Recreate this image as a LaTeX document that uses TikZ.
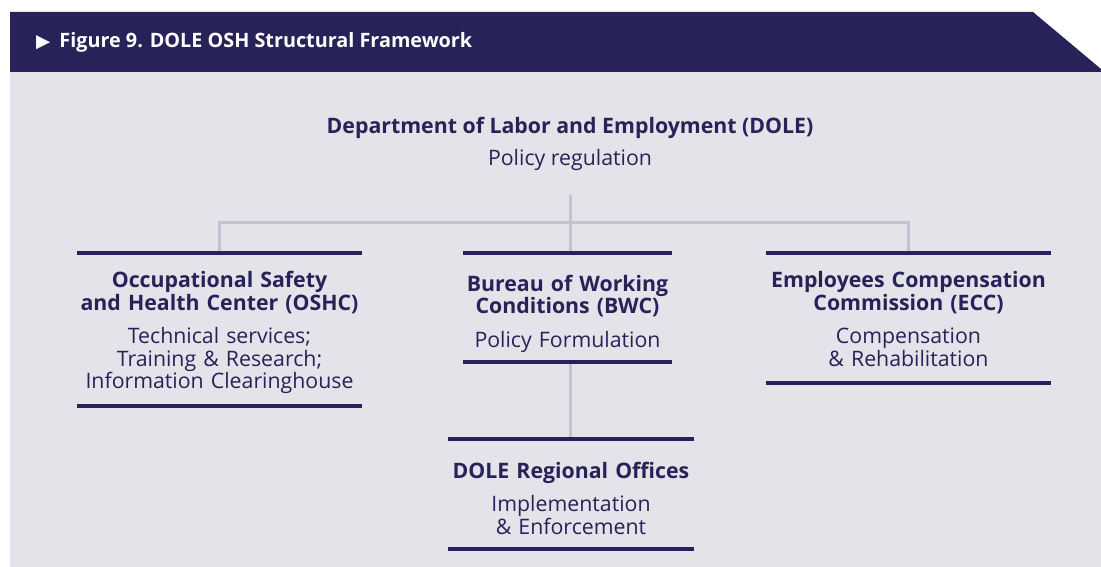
\documentclass[tikz,border=0pt]{standalone}
\usepackage{fontspec}
\setmainfont{Open Sans}
\newfontfamily\symfont{DejaVu Sans}
\definecolor{navy}{HTML}{272257}
\definecolor{panel}{HTML}{E4E3EA}
\definecolor{wire}{HTML}{C4C2D2}
\newcommand{\lift}[1]{\rule{0pt}{#1}}
\tikzset{
  unit/.style={anchor=north,align=center,text=navy,inner xsep=0pt,inner ysep=0pt,
    font=\fontsize{21.3}{22.5}\selectfont},
  rule/.style={navy,line width=4pt},
  link/.style={wire,line width=3pt},
}

\begin{document}
\begin{tikzpicture}[x=1pt,y=-1pt]
\useasboundingbox (0,0) rectangle (1101,567);
\fill[white] (0,0) rectangle (1101,567);
\fill[panel] (10,72) rectangle (1101,567);
\fill[navy] (10,12) -- (1033,12) -- (1101,69) -- (1101,72) -- (10,72) -- cycle;
\node[anchor=west,text=white,inner sep=0pt,font=\fontsize{19.8}{22}\selectfont\bfseries] (title) at (36,42)
  {{\symfont\fontsize{18.5}{20}\selectfont ▶}\hspace{9pt}Figure 9. DOLE OSH Structural Framework};

% top of the tree
\node[unit,anchor=center] (dole) at (570,144)
  {\textbf{Department of Labor and Employment (DOLE)}\\[9pt] Policy regulation};

% the three centers
\node[unit,text width=285pt,minimum height=153pt] (oshc) at (219.5,253)
  {\lift{22pt}\textbf{Occupational Safety}\\ \textbf{and Health Center (OSHC)}\\[11pt]
   Technical services;\\ Training \& Research;\\ Information Clearinghouse};
\node[unit,text width=209pt,minimum height=109pt] (bwc) at (567.5,253)
  {\lift{28pt}\textbf{Bureau of Working}\\ \textbf{Conditions (BWC)}\\[11pt] Policy Formulation};
\node[unit,text width=285pt,minimum height=130pt] (ecc) at (908.5,253)
  {\lift{18pt}\textbf{Employees Compensation}\\ \textbf{Commission (ECC)}\\[11pt]
   Compensation\\ \& Rehabilitation};
\node[unit,text width=246pt,minimum height=110pt] (ro) at (571,439)
  {\lift{24pt}\textbf{DOLE Regional Offices}\\[11pt] Implementation\\ \& Enforcement};

% connectors
\coordinate (hub) at (570,222);
\draw[link] ([yshift=-24pt]dole.south) -- (hub) -- (hub |- bwc.north);
\draw[link] (oshc.north) |- (hub) -| (ecc.north);
\draw[link] (bwc.south -| hub) -- (ro.north -| hub);

% rules above and below each box
\foreach \b in {oshc,bwc,ecc,ro}{
  \draw[rule] (\b.north west) -- (\b.north east);
  \draw[rule] (\b.south west) -- (\b.south east);
}
\end{tikzpicture}
\end{document}
